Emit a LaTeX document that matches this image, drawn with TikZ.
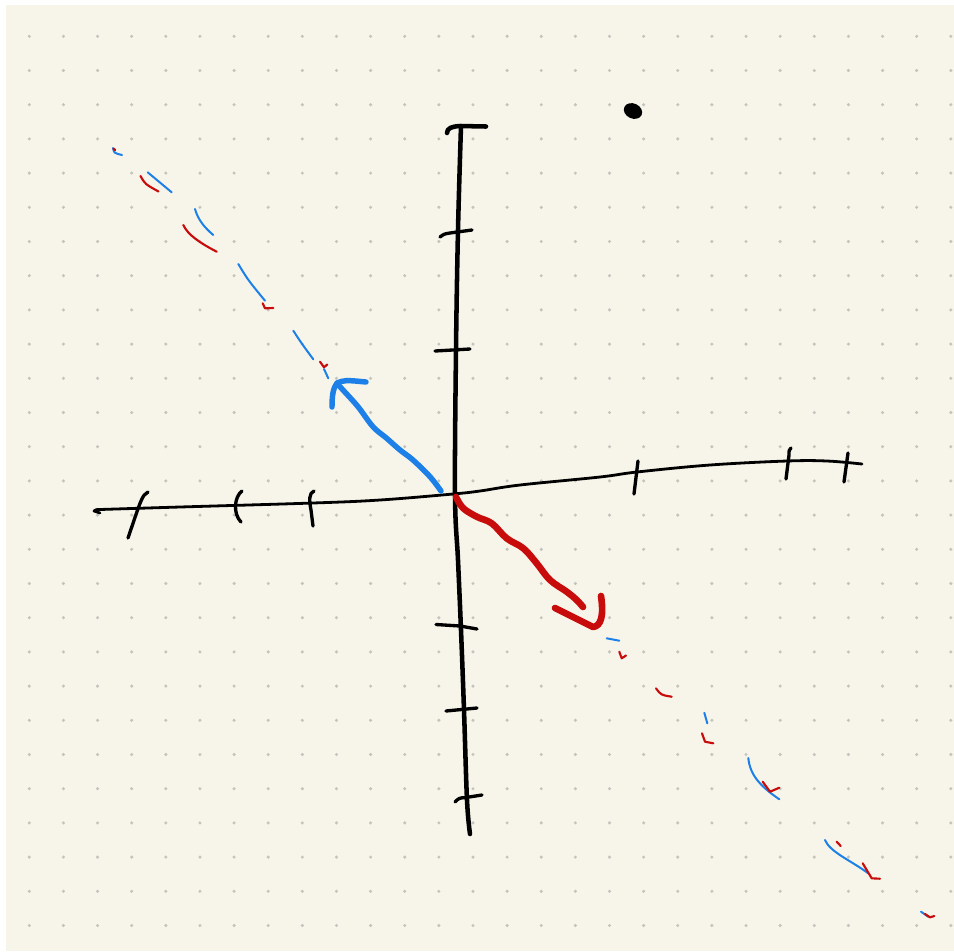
\documentclass[tikz,border=0pt]{standalone}
\begin{document}
\begin{tikzpicture}[x=0.75pt,y=-0.75pt,line cap=round,line join=round]
\definecolor{paper}{RGB}{247,245,234}
\definecolor{griddot}{RGB}{196,196,190}
\definecolor{penblue}{RGB}{28,128,232}
\definecolor{penred}{RGB}{200,12,12}
\tikzset{
  axisv/.style={draw=black,line width=3.4pt},
  axish/.style={draw=black,line width=2.1pt},
  tickmark/.style={draw=black,line width=2.5pt},
  bluearrow/.style={draw=penblue,line width=4.1pt},
  redarrow/.style={draw=penred,line width=5pt},
  bluefrag/.style={draw=penblue,line width=1.5pt},
  redfrag/.style={draw=penred,line width=1.6pt}
}
\useasboundingbox (0,0) rectangle (954,951);
\fill[white] (0,0) rectangle (954,951);
\fill[paper] (6,5) rectangle (954,951);
% dot grid
\foreach \i in {0,...,27}{
  \foreach \j in {0,...,26}{
    \fill[griddot] ({29.3+34.13*\i},{36.3+34.2*\j}) circle (1.7);
  }
}
% black dot
\fill[black,rotate around={-25:(633,111)}] (633,111) ellipse (9.5 and 7.5);
% horizontal axis
\draw[axish] (100,513) -- (94,511) .. controls (96,509.5) .. (100,509.5)
  plot[smooth,tension=0.6] coordinates {(100,509.5) (180,507) (313,503) (380,500) (453,494) (480,491) (520,485) (600,477) (637,472) (710,465) (787,461) (827,461) (862,464)};
% horizontal ticks
\draw[tickmark] (148,492) .. controls (142,495) and (141,500) .. (128,538);
\draw[tickmark] (242,491) .. controls (234,497) and (233,514) .. (241,522);
\draw[tickmark] (314,491) .. controls (309,493) and (309,500) .. (311,510) -- (313,526);
\draw[tickmark] (638,461) -- (634,494);
\draw[tickmark] (791,448) .. controls (789,450) .. (789,455) -- (786,479);
\draw[tickmark] (848,453) -- (844,482);
% vertical axis
\draw[axisv] plot[smooth,tension=0.6] coordinates {(461,126) (458,230) (456,350) (455,495) (458,560) (461,630) (464,710) (467,800) (470,834)};
\draw[axisv] (447,133) .. controls (447,128) and (452,126.5) .. (460,126) -- (486,126.5);
% vertical ticks
\draw[tickmark] (440,237) .. controls (444,234) .. (450,233) -- (472,230);
\draw[tickmark] (435,351) -- (470,349);
\draw[tickmark] (436,624.5) -- (460,626) -- (477,629);
\draw[tickmark] (446,711) -- (477,708);
\draw[tickmark] (455,802) .. controls (459,798) .. (466,797.5) -- (482,795);
% blue arrow
\draw[bluearrow] plot[smooth,tension=0.6] coordinates {(441,491) (430,476.7) (413,460) (400,450) (386.7,438.3) (373,426.7) (358,406.7) (343,390) (337,383.5)};
\draw[bluearrow] (332,407) .. controls (332,396) and (333,388) .. (337,383) .. controls (345,380) .. (366,382);
% red arrow
\draw[redarrow] plot[smooth,tension=0.6] coordinates {(456,497) (463,508) (476.7,516.7) (491.7,523.3) (506.7,538.3) (523.3,548.3) (536.7,563.3) (550,580) (566.7,591.7) (576.7,600) (583,607)};
\draw[redarrow] (555,608) -- (593,627) .. controls (601,626) and (604,616) .. (601,596);
% dashed fragments, upper left
\draw[bluefrag] (113,148) .. controls (114,153) .. (122,155);
\draw[redfrag] (113.5,148.5) -- (115,150);
\draw[redfrag] (140.5,176) .. controls (145,184) .. (158.5,191.5);
\draw[bluefrag] (147.7,172.3) -- (171.7,192.3);
\draw[bluefrag] (195,209) .. controls (198,220) and (205,228) .. (213.3,235);
\draw[redfrag] (183.3,225) .. controls (188,235) and (200,243) .. (216.7,251.7);
\draw[bluefrag] (238.3,264) .. controls (248,280) .. (265,300.7);
\draw[redfrag] (262.7,303.3) -- (265,308.3) -- (273.3,308);
\draw[bluefrag] (293.3,330.7) .. controls (302,344) .. (313.3,359.3);
\draw[redfrag] (320,361.7) -- (324,367.3) -- (327.3,364.5);
\draw[bluefrag] (324,369) -- (328.3,378.3);
% dashed fragments, lower right
\draw[bluefrag] (606.7,638.3) -- (619.3,640.7);
\draw[redfrag] (619.3,651.7) -- (621.7,658.3) -- (626,655.5);
\draw[redfrag] (656,688.3) .. controls (661,695) .. (671.7,696.7);
\draw[bluefrag] (704.3,712.7) -- (707.3,723.3);
\draw[redfrag] (702,733.3) -- (705,741.7) -- (713.3,743.3);
\draw[bluefrag] (748.3,758) .. controls (750,775) and (760,786) .. (779.3,799.3);
\draw[redfrag] (762.7,781.7) -- (770,791.7) -- (779.3,787.7);
\draw[bluefrag] (825,840) .. controls (830,852) and (850,860) .. (868.3,873.3);
\draw[redfrag] (836.7,841.7) -- (840.7,846);
\draw[redfrag] (862.7,863.3) -- (871.7,878.3) -- (880,878.7);
\draw[bluefrag] (921,911.7) -- (928.3,916.7);
\draw[redfrag] (925,914) -- (930,917.3) -- (934.3,916);
\end{tikzpicture}
\end{document}
